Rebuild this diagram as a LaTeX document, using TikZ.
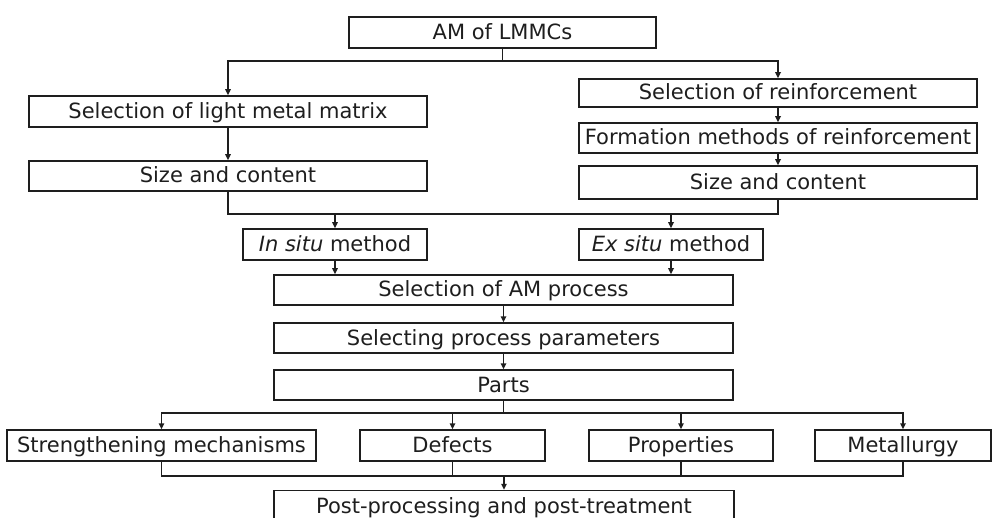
\documentclass[tikz,border=0pt]{standalone}
\usepackage{fontspec}
\setmainfont{DejaVu Sans}
\usetikzlibrary{
  positioning,
  arrows.meta,
  calc
}
\definecolor{amInk}{HTML}{1E1E1E}

\begin{document}
\begin{tikzpicture}[
  x=1pt, y=-1pt,
  every node/.style={font=\fontsize{21}{24}\selectfont, text=amInk, align=center},
  box/.style={
    rectangle, draw=amInk, line width=1.5pt, fill=white,
    inner sep=0pt, minimum height=30pt,
    text height=16pt, text depth=2pt
  },
  wide/.style={box, minimum width=398pt},
  mid/.style={box, minimum width=459pt},
  short/.style={box, minimum width=184pt},
  line/.style={draw=amInk, line width=1.5pt},
  arrow/.style={line, -{Triangle[length=6pt, width=5.5pt]}}
]
 \useasboundingbox (0,0) rectangle (992,518);

 % Top
 \node[box, minimum width=307pt, minimum height=31pt] (am) at (502.5,32.5) {AM of LMMCs};

 % Matrix branch
 \node[wide, minimum height=31pt] (matrix) at (228,111.5) {Selection of light metal matrix};
 \node[wide] (sizeL) at (228,176) {Size and content};

 % Reinforcement branch
 \node[wide, minimum height=28pt] (reinf) at (778,93) {Selection of reinforcement};
 \node[wide] (form) at (778,138) {Formation methods of reinforcement};
 \node[wide, minimum height=33pt] (sizeR) at (778,182.5) {Size and content};

 % Methods
 \node[short, minimum height=31pt] (insitu) at (335,244.5) {\textit{In situ} method};
 \node[short, minimum height=31pt] (exsitu) at (671,244.5) {\textit{Ex situ} method};

 % Process chain
 \node[mid] (amproc) at (503.5,290) {Selection of AM process};
 \node[mid] (params) at (503.5,338) {Selecting process parameters};
 \node[mid] (parts) at (503.5,385) {Parts};

 % Outcomes
 \node[box, minimum width=309pt, minimum height=31pt] (strength) at (161.5,445.5) {Strengthening mechanisms};
 \node[box, minimum width=185pt, minimum height=31pt] (defects) at (452.5,445.5) {Defects};
 \node[box, minimum width=184pt, minimum height=31pt] (props) at (681,445.5) {Properties};
 \node[box, minimum width=176pt, minimum height=31pt] (metal) at (903,445.5) {Metallurgy};

 \node[box, minimum width=460pt, minimum height=31pt] (post) at (504,506) {Post-processing and post-treatment};

 % Connectors
 \coordinate (s1) at (am.south |- 0,61);
 \draw[line] (am) -- (s1);
 \draw[arrow] (s1) -| (matrix);
 \draw[arrow] (s1) -| (reinf);
 \draw[arrow] (matrix) -- (sizeL);
 \draw[arrow] (reinf) -- (form);
 \draw[arrow] (form) -- (sizeR);

 \coordinate (jL) at (sizeL.south |- 0,214);
 \coordinate (jR) at (sizeR.south |- 0,214);
 \draw[line] (sizeL) -- (jL) -- (jR) -- (sizeR);
 \draw[arrow] (insitu |- jL) -- (insitu);
 \draw[arrow] (exsitu |- jR) -- (exsitu);

 \draw[arrow] (insitu) -- (insitu |- amproc.north);
 \draw[arrow] (exsitu) -- (exsitu |- amproc.north);
 \draw[arrow] (amproc) -- (params);
 \draw[arrow] (params) -- (parts);

 \coordinate (s2) at (parts.south |- 0,413);
 \draw[line] (parts) -- (s2);
 \draw[arrow] (s2) -| (strength);
 \draw[arrow] (s2) -| (defects);
 \draw[arrow] (s2) -| (props);
 \draw[arrow] (s2) -| (metal);

 \coordinate (m2) at (post.north |- 0,476);
 \draw[line] (strength) |- (m2) -| (metal);
 \draw[line] (defects) -- (defects |- m2);
 \draw[line] (props) -- (props |- m2);
 \draw[arrow] (m2) -- (post);
\end{tikzpicture}
\end{document}
